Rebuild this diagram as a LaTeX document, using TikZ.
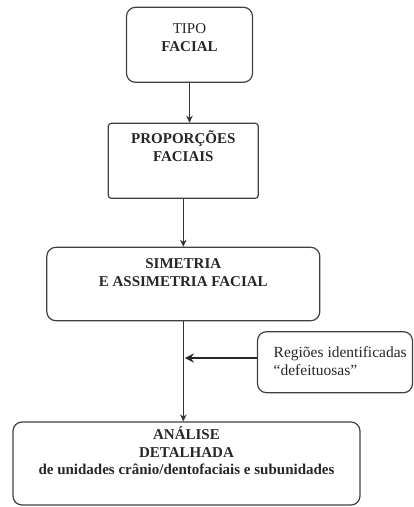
\documentclass[tikz,border=0pt]{standalone}
\usepackage{fontspec}
\setmainfont{Liberation Serif}
\usetikzlibrary{arrows.meta, positioning}

\begin{document}
\begin{tikzpicture}[->,>={Stealth[length=7pt,width=6.5pt]},semithick, x=1pt, y=-1pt,
 box/.style={draw=black!75, line width=1.2pt, rounded corners=9pt, fill=none},
 boxsharp/.style={box, rounded corners=3pt},
 txt/.style={align=center, inner sep=0pt, text=black!85,
  font=\fontsize{15}{17.4}\selectfont\bfseries},
 flow/.style={draw=black!80, line width=0.9pt},
 push/.style={draw=black!85, line width=2.6pt, -{Stealth[length=9pt,width=9pt]}}]

  \useasboundingbox (0,0) rectangle (414,507);

  % boxes
  \node[box, minimum width=126pt, minimum height=75pt] (tipo) at (189.5,44.8) {};
  \node[boxsharp, minimum width=150pt, minimum height=75pt] (prop) at (183.3,160.8) {};
  \node[box, minimum width=273pt, minimum height=73.4pt] (sim) at (183.3,284) {};
  \node[box, minimum width=347pt, minimum height=83pt] (ana) at (186.5,463.5) {};
  \node[box, minimum width=155pt, minimum height=61pt] (side) at (335,362.2) {};

  % texts
  \node[txt, below=14.8pt of tipo.north] (tipotxt)
   {\strut{\mdseries TIPO}\\FACIAL};
  \node[txt, below=7.8pt of prop.north] (proptxt)
   {\strut PROPORÇÕES\\FACIAIS};
  \node[txt, below=9.8pt of sim.north] (simtxt)
   {\strut SIMETRIA\\E ASSIMETRIA FACIAL};
  \node[txt, below=5.1pt of ana.north] (anatxt)
   {\strut ANÁLISE\\DETALHADA\\de unidades crânio/dentofaciais e subunidades};
  \node[txt, align=left, font=\fontsize{15.5}{18}\selectfont,
   anchor=north west] (sidetxt) at ([xshift=16.5pt,yshift=-13.1pt]side.north west)
   {\strut Regiões identificadas\\“defeituosas”};

  \coordinate (sidearr) at ([yshift=4.2pt]side.west);

  \path
   (tipo.south) edge[flow] (tipo.south |- prop.north)
   (prop.south) edge[flow] (prop.south |- sim.north)
   (sim.south) edge[flow] (sim.south |- ana.north)
   (sidearr) edge[push] ([xshift=1.5pt]sidearr -| sim.south);
\end{tikzpicture}
\end{document}
